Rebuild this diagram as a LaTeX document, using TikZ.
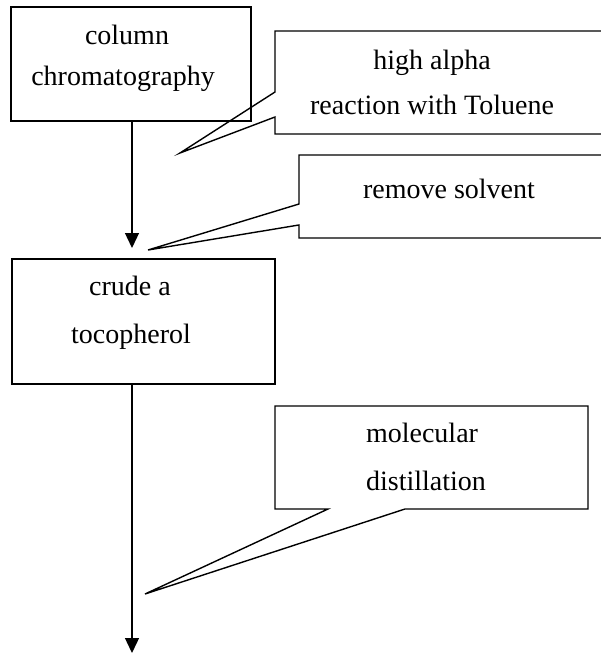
\documentclass[tikz,border=0pt]{standalone}
\usepackage{fontspec}
\setmainfont{Liberation Serif}
\usetikzlibrary{arrows.meta}
\tikzset{
  boxnode/.style={draw, line width=1.4pt, inner sep=0pt, outer sep=0pt, rectangle},
  lbl/.style={anchor=base, inner sep=0pt, font=\fontsize{28}{34}\selectfont},
  calloutline/.style={draw, line width=1.4pt, line join=miter},
  flow/.style={draw, line width=1.3pt, -{Triangle[length=15pt,width=14pt]}}
}
\begin{document}
\begin{tikzpicture}[x=1pt,y=-1pt]
\clip (0,0) rectangle (601,655);
\fill[white] (0,0) rectangle (601,655);
% boxes
\node[boxnode, minimum width=240pt, minimum height=114pt] (box1) at (131,64) {};
\node[boxnode, minimum width=263pt, minimum height=125pt] (box2) at (143.5,321.5) {};
% box texts
\node[lbl] (t1a) at (127,45) {column};
\node[lbl] (t1b) at (123,86) {chromatography};
\node[lbl] (t2a) at (130,295) {crude a};
\node[lbl] (t2b) at (131,343) {tocopherol};
% arrows
\coordinate (e1) at (132,248);
\coordinate (e2) at (132,653);
\path[flow] (box1.south -| e1) -- (e1);
\path[flow] (box2.south -| e2) -- (e2);
% callout 1
\coordinate (c1tip) at (180,153);
\path[calloutline] (610,31) -- (275,31) -- (275,92) -- (c1tip) -- (275,117) -- (275,134) -- (610,134);
\node[lbl] (c1a) at (432,70) {high alpha};
\node[lbl] (c1b) at (432,115) {reaction with Toluene};
% callout 2
\coordinate (c2tip) at (148,250);
\path[calloutline] (610,155) -- (299,155) -- (299,204) -- (c2tip) -- (299,225) -- (299,238) -- (610,238);
\node[lbl] (c2a) at (449,198) {remove solvent};
% callout 3
\coordinate (c3tip) at (145,594);
\path[calloutline] (275,406) -- (588,406) -- (588,509) -- (405,509) -- (c3tip) -- (328,509) -- (275,509) -- cycle;
\node[lbl] (c3a) at (422,442) {molecular};
\node[lbl] (c3b) at (426,490) {distillation};
\end{tikzpicture}
\end{document}
